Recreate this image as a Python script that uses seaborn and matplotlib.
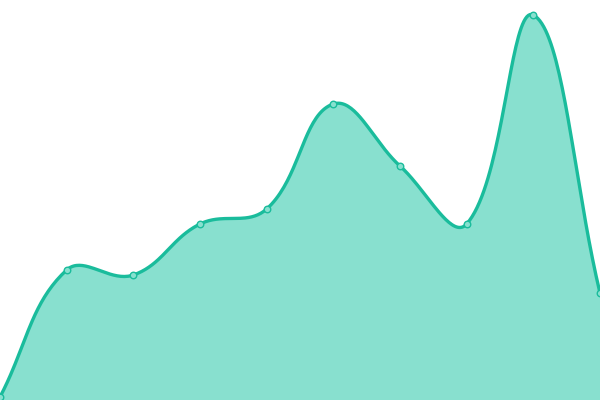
import numpy as np
import pandas as pd
import matplotlib.pyplot as plt
import seaborn as sns

# data (10 evenly spaced points)
steps = list(range(10))
values = [3, 130, 125, 176, 191, 296, 234, 176, 385, 107]

LINE = '#1abc9c'
FILL = '#88e0cf'
W, H = 600, 400
YMAX = 400


def spline(xs, ys, tension=0.4, n=40):
    """Tension spline (control points scaled by neighbour distances), in pixel space."""
    sx = W / (len(xs) - 1)
    sy = H / YMAX
    P = np.column_stack([np.asarray(xs, float) * sx, np.asarray(ys, float) * sy])
    k = len(P)
    prev_cp, next_cp = [], []
    for i in range(k):
        cur = P[i]
        a = P[i - 1] if i > 0 else cur
        b = P[i + 1] if i < k - 1 else cur
        d01 = np.hypot(*(cur - a))
        d12 = np.hypot(*(b - cur))
        s01 = d01 / (d01 + d12)
        s12 = d12 / (d01 + d12)
        prev_cp.append(cur - tension * s01 * (b - a))
        next_cp.append(cur + tension * s12 * (b - a))
    t = np.linspace(0, 1, n, endpoint=False)[:, None]
    out = []
    for i in range(k - 1):
        p0, p1, p2, p3 = P[i], next_cp[i], prev_cp[i + 1], P[i + 1]
        out.append((1-t)**3*p0 + 3*(1-t)**2*t*p1 + 3*(1-t)*t**2*p2 + t**3*p3)
    out.append(P[-1][None, :])
    out = np.vstack(out)
    return out[:, 0] / sx, out[:, 1] / sy


cx, cy = spline(steps, values)
curve = pd.DataFrame({'x': cx, 'y': cy})
pts = pd.DataFrame({'x': steps, 'y': values})

sns.set_style('white')
fig = plt.figure(figsize=(6, 4), dpi=100)
ax = fig.add_axes([0, 0, 1, 1])

ax.fill_between(curve['x'], 0, curve['y'], color=FILL, linewidth=0)
sns.lineplot(data=curve, x='x', y='y', ax=ax, color=LINE, linewidth=2.4,
             sort=False, estimator=None)
sns.scatterplot(data=pts, x='x', y='y', ax=ax, s=22, color=FILL,
                edgecolor=LINE, linewidth=1.0, zorder=5)

ax.set_xlim(0, 9)
ax.set_ylim(0, YMAX)
ax.axis('off')
fig.savefig('out.png', dpi=100)
